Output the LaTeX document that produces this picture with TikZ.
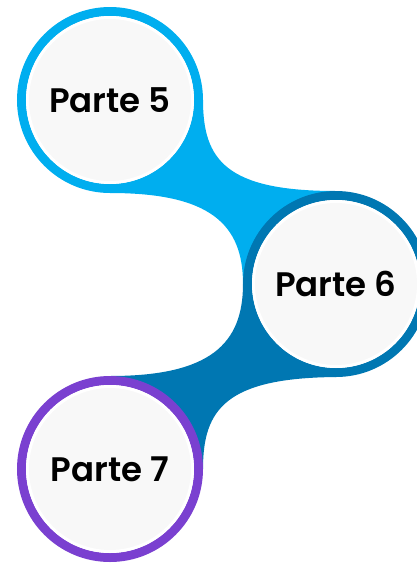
\documentclass[tikz,border=0pt]{standalone}
\usepackage{fontspec}
\setmainfont{Poppins}[BoldFont={Poppins SemiBold}]
\usepackage{tikz}
\usetikzlibrary{shapes,backgrounds}

\definecolor{cyanpart}{HTML}{00AEEF}
\definecolor{bluepart}{HTML}{0077B2}
\definecolor{purplepart}{HTML}{7A40D0}
\definecolor{grayfill}{HTML}{F8F8F8}

\begin{document}
\begin{tikzpicture}[x=1pt,y=-1pt,
  parte/.style={circle,fill=grayfill,line width=9pt,minimum size=177pt,inner sep=0pt,
    font=\fontsize{34}{40}\selectfont\bfseries}]

\useasboundingbox (0,0) rectangle (416,563);

\node[parte,draw=cyanpart] (p5) at (110,100) {Parte 5};
\node[parte,draw=bluepart] (p6) at (336,284) {Parte 6};
\node[parte,draw=purplepart] (p7) at (110,469) {Parte 7};

\draw[white,line width=3pt] (p5.center) circle (82.5pt);
\draw[white,line width=3pt] (p6.center) circle (82.5pt);
\draw[white,line width=3pt] (p7.center) circle (82.5pt);

\begin{scope}[on background layer]
% link 5 - 6
\fill[cyanpart] (p5.east) .. controls (203,160) and (226,191) .. (p6.north)
  -- (p6.center) -- (p6.west) .. controls (243,224) and (210,193) .. (p5.south)
  -- (p5.center) -- cycle;
% link 6 - 7
\fill[bluepart] (p6.west) .. controls (243,344) and (210,376) .. (p7.north)
  -- (p7.center) -- (p7.east) .. controls (203,409) and (226,378) .. (p6.south)
  -- (p6.center) -- cycle;
\end{scope}

\end{tikzpicture}
\end{document}
